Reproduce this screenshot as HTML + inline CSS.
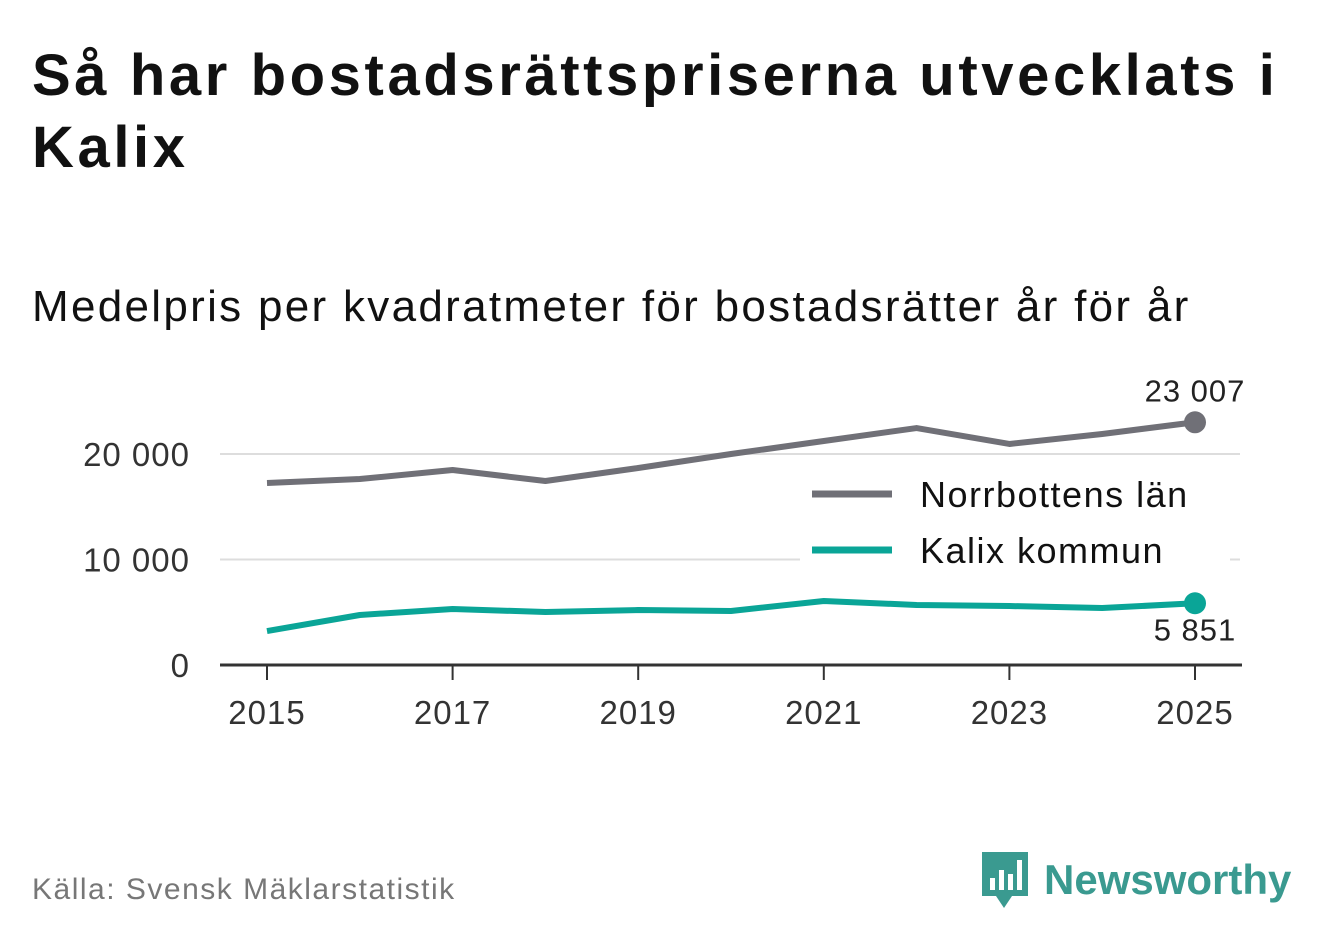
<!DOCTYPE html>
<html><head><meta charset="utf-8"><style>
body{margin:0;width:1322px;height:939px;background:#fff;font-family:"Liberation Sans",sans-serif;overflow:hidden;position:relative}
h1{position:absolute;left:32px;top:40px;margin:0;font-size:58px;line-height:72px;font-weight:bold;color:#111;width:1300px;letter-spacing:3.6px;white-space:nowrap}
.sub{position:absolute;left:32px;top:282px;font-size:44px;color:#111;letter-spacing:2.3px;white-space:nowrap}
.src{position:absolute;left:32px;top:873px;font-size:30px;color:#777;letter-spacing:1.5px}
.logo{position:absolute;left:980px;top:850px;display:flex;align-items:center}
.logo span{font-size:42px;font-weight:bold;color:#3a9a90;margin-left:14px}
</style></head><body>
<h1>Så har bostadsrättspriserna utvecklats i<br>Kalix</h1>
<div class="sub">Medelpris per kvadratmeter för bostadsrätter år för år</div>
<svg id="chart" width="1322" height="939" style="position:absolute;left:0;top:0"></svg>
<div class="src">Källa: Svensk Mäklarstatistik</div>
<div class="logo">
<svg width="50" height="60" viewBox="0 0 50 60"><path d="M2 2h46v44H32l-8 12-8-12H2z" fill="#3a9a90"/><rect x="10" y="28" width="5" height="12" fill="#fff"/><rect x="19" y="20" width="5" height="20" fill="#fff"/><rect x="28" y="24" width="5" height="16" fill="#fff"/><rect x="37" y="10" width="5" height="30" fill="#fff"/></svg>
<span>Newsworthy</span></div>
<script>
const years=[2015,2016,2017,2018,2019,2020,2021,2022,2023,2024,2025];
const norrbotten=[17250,17630,18480,17440,18670,20000,21230,22460,20950,21900,23007];
const kalix=[3220,4740,5310,5020,5210,5120,6070,5690,5590,5400,5851];
const yTicks=[0,10000,20000];
const xTicks=[2015,2017,2019,2021,2023,2025];
const NS="http://www.w3.org/2000/svg";
const svg=document.getElementById('chart');
const x=v=>267+(v-2015)*92.8;
const y=v=>665-v*0.01055;
const fmt=v=>String(v).replace(/\B(?=(\d{3})+(?!\d))/g,' ');
function el(t,a,txt){const e=document.createElementNS(NS,t);for(const k in a)e.setAttribute(k,a[k]);if(txt!==undefined)e.textContent=txt;svg.appendChild(e);return e;}
yTicks.forEach(v=>{
 if(v>0){const g=el('line',{x1:220,x2:1240,y1:y(v),y2:y(v),stroke:'#ddd','stroke-width':2});
 
 }
 const t=el('text',{x:190,y:y(v)+12,'text-anchor':'end','font-size':33,fill:'#333','letter-spacing':1},fmt(v));
 
 
});
const ax=el('line',{x1:220,x2:1242,y1:665,y2:665,stroke:'#333','stroke-width':3});


xTicks.forEach(v=>{
 const tk=el('line',{x1:x(v),x2:x(v),y1:665,y2:680,stroke:'#333','stroke-width':2});
 
 
 const t=el('text',{x:x(v),y:724,'text-anchor':'middle','font-size':33,fill:'#333','letter-spacing':1},v);
 
 
});
const lb=el('rect',{x:800,y:470,width:430,height:120,fill:'#fff'});


function series(data,color,name,labelDy){
 const p=el('polyline',{points:data.map((v,i)=>x(years[i])+','+y(v)).join(' '),fill:'none',stroke:color,'stroke-width':6,'stroke-linejoin':'round'});
 
 
 const n=data.length-1;
 const c=el('circle',{cx:x(years[n]),cy:y(data[n]),r:11,fill:color});
 
 
 const t=el('text',{x:x(years[n]),y:y(data[n])+labelDy,'text-anchor':'middle','font-size':31,fill:'#222','letter-spacing':1},fmt(data[n]));
 
 
}
series(norrbotten,'#707077','norrbotten',-21);
series(kalix,'#0aa597','kalix',37);
[['Norrbottens län','#707077',494],['Kalix kommun','#0aa597',550]].forEach(([n,c,yy])=>{
 const l=el('line',{x1:812,x2:892,y1:yy,y2:yy,stroke:c,'stroke-width':7});
 
 
 const t=el('text',{x:920,y:yy+13,'font-size':36,fill:'#111','letter-spacing':1.5},n);
 
 
});
</script>
</body></html>
